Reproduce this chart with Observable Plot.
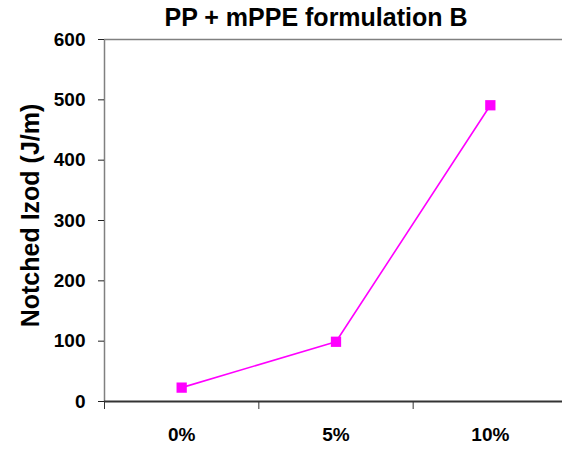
<!DOCTYPE html>
<html>
<head>
<meta charset="utf-8">
<script src="https://cdn.jsdelivr.net/npm/d3@7"></script>
<script src="https://cdn.jsdelivr.net/npm/@observablehq/plot@0.6"></script>
<style>
  html, body { margin: 0; padding: 0; background: #fff; }
  #wrap { width: 562px; height: 449px; position: relative; overflow: hidden; font-family: "Liberation Sans", Arial, sans-serif; }
  #title { position: absolute; left: 0; top: 0; width: 562px; height: 30px; text-align: center; font-weight: bold; font-size: 25px; line-height: 34px; padding-left: 70px; box-sizing: border-box; color: #000; }
  #chart { position: absolute; left: 0; top: 30px; }
</style>
</head>
<body>
<div id="wrap">
  <div id="title">PP + mPPE formulation B</div>
  <div id="chart"></div>
</div>
<script>
const categories = ["0%", "5%", "10%"];
const izod = [23, 99, 491];
const yTicks = [0, 100, 200, 300, 400, 500, 600];
const yLabel = "Notched Izod (J/m)";

const data = categories.map((c, i) => ({cat: c, idx: i + 0.5, value: izod[i]}));
const font = "Liberation Sans, Arial, sans-serif";

const plot = Plot.plot({
  width: 562,
  height: 419,
  marginLeft: 104,
  marginRight: 0,
  marginTop: 9,
  marginBottom: 48,
  style: {fontFamily: font, background: "#fff", overflow: "visible"},
  x: {domain: [0, 3], range: [104, 567]},
  y: {domain: [0, 600]},
  marks: [
    Plot.ruleY([600], {stroke: "#808080", strokeWidth: 1.5}),
    Plot.ruleX([0], {stroke: "#808080", strokeWidth: 1.5}),
    Plot.axisY({ticks: yTicks, tickSize: 6, tickPadding: 13, stroke: "#222", fill: "#000", fontSize: 19, fontWeight: "bold", label: null}),
    Plot.axisX({ticks: [0, 1, 2, 3], tickSize: 8, tickFormat: () => "", stroke: "#333", label: null}),
    Plot.axisX({ticks: data.map(d => d.idx), tickSize: 0, tickPadding: 26, tickFormat: (d, i) => categories[i], fontSize: 19, fontWeight: "bold", fill: "#000", label: null}),
    Plot.ruleY([0], {stroke: "#333", strokeWidth: 2}),
    Plot.text([yLabel], {frameAnchor: "left", textAnchor: "middle", dx: -74, dy: -5, rotate: -90, fontSize: 25, fontWeight: "bold", fill: "#000"}),
    Plot.line(data, {x: "idx", y: "value", stroke: "#FF00FF", strokeWidth: 1.6}),
    Plot.dot(data, {x: "idx", y: "value", symbol: "square", r: 5.8, fill: "#FF00FF", stroke: "none"})
  ]
});
document.getElementById("chart").appendChild(plot);
</script>
</body>
</html>
